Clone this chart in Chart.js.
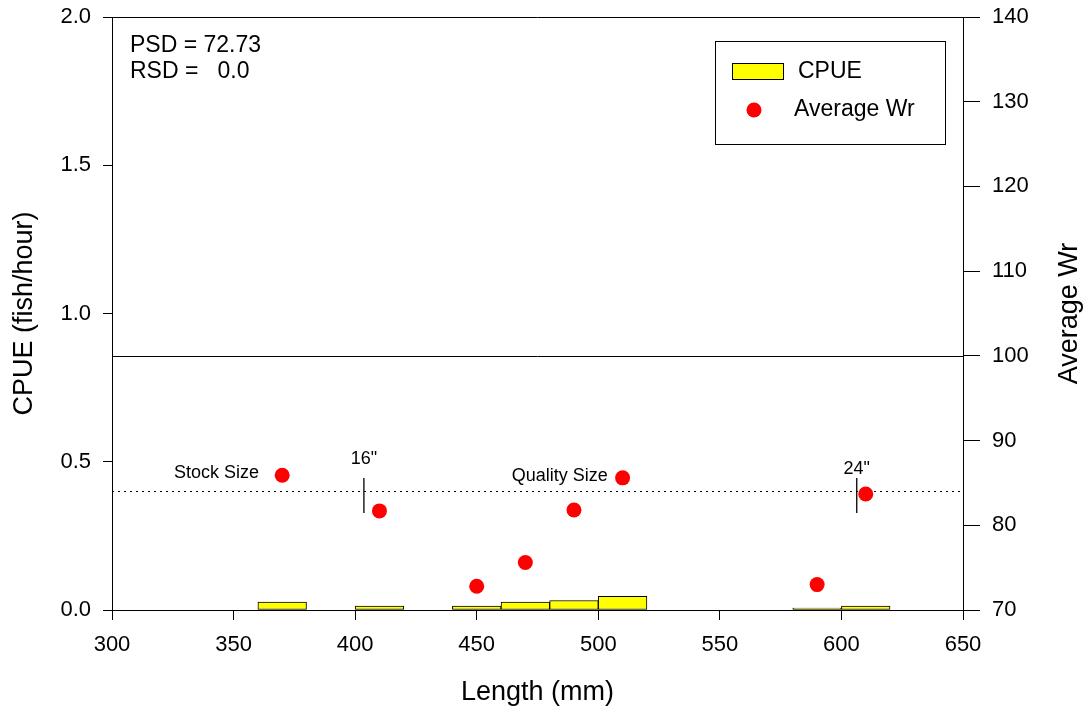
<!DOCTYPE html>
<html>
<head>
<meta charset="utf-8">
<script src="https://cdn.jsdelivr.net/npm/chart.js@4.4.1/dist/chart.umd.min.js"></script>
<style>
  html, body { margin: 0; padding: 0; background: #ffffff; }
  canvas { display: block; }
</style>
</head>
<body>
<canvas id="chart" width="1088" height="711"></canvas>
<script>
// ---- Data ----
const binCenters = [370, 410, 450, 470, 490, 510, 590, 610];   // length bin centers (mm), 20 mm bins
const cpueValues = [0.027, 0.013, 0.013, 0.027, 0.032, 0.046, 0.0067, 0.013];
const wrLengths = [370, 410, 450, 470, 490, 510, 590, 610];
const wrValues = [85.9, 81.7, 72.8, 75.6, 81.8, 85.6, 73.0, 83.7];
const xTicks = [300, 350, 400, 450, 500, 550, 600, 650];
const cpueTicks = [0.0, 0.5, 1.0, 1.5, 2.0];
const wrTicks = [70, 80, 90, 100, 110, 120, 130, 140];
const wrReference = 100;          // solid reference line (Average Wr)
const cpueReference = 0.4;        // dotted reference line (CPUE)
const sizeMarks = [403.6, 606.3]; // 16" and 24" markers (mm)
const sizeMarkLabels = ['16"', '24"'];
const sizeMarkLabelY = [0.508, 0.477];
const sizeMarkRange = [0.327, 0.445];
const sizeClassLabels = ['Stock Size', 'Quality Size'];
const sizeClassX = [325.5, 464.4];
const sizeClassY = [0.462, 0.452];
const statsLines = ['PSD = 72.73', 'RSD =   0.0'];

const FONT = '"Liberation Sans", Arial, Helvetica, sans-serif';

const noPad = (s) => { s.paddingTop = 0; s.paddingBottom = 0; s.paddingLeft = 0; s.paddingRight = 0; };

const decorPlugin = {
  id: 'decor',
  beforeDatasetsDraw(chart) {
    const ctx = chart.ctx;
    const a = chart.chartArea;
    const x = chart.scales.x, y = chart.scales.y, y2 = chart.scales.y2;
    ctx.save();
    ctx.strokeStyle = '#000';
    ctx.lineWidth = 1;
    ctx.beginPath();
    ctx.moveTo(a.left, Math.round(a.top) + 0.5);
    ctx.lineTo(a.right, Math.round(a.top) + 0.5);
    ctx.stroke();
    const yr = Math.round(y2.getPixelForValue(wrReference)) + 0.5;
    ctx.beginPath();
    ctx.moveTo(a.left, yr);
    ctx.lineTo(a.right, yr);
    ctx.stroke();
    const yd = Math.round(y.getPixelForValue(cpueReference)) + 0.5;
    ctx.setLineDash([2, 4]);
    ctx.beginPath();
    ctx.moveTo(a.left, yd);
    ctx.lineTo(a.right, yd);
    ctx.stroke();
    ctx.setLineDash([]);
    ctx.lineWidth = 1.3;
    sizeMarks.forEach((m) => {
      const px = x.getPixelForValue(m);
      ctx.beginPath();
      ctx.moveTo(px, y.getPixelForValue(sizeMarkRange[0]));
      ctx.lineTo(px, y.getPixelForValue(sizeMarkRange[1]));
      ctx.stroke();
    });
    ctx.restore();
  },
  afterDraw(chart) {
    const ctx = chart.ctx;
    const a = chart.chartArea;
    const x = chart.scales.x, y = chart.scales.y;
    ctx.save();
    ctx.fillStyle = '#000';
    ctx.font = '18px ' + FONT;
    ctx.textAlign = 'center';
    ctx.textBaseline = 'middle';
    sizeMarks.forEach((m, i) => {
      ctx.fillText(sizeMarkLabels[i], x.getPixelForValue(m), y.getPixelForValue(sizeMarkLabelY[i]));
    });
    ctx.textAlign = 'left';
    sizeClassLabels.forEach((t, i) => {
      ctx.fillText(t, x.getPixelForValue(sizeClassX[i]), y.getPixelForValue(sizeClassY[i]));
    });
    ctx.font = '23px ' + FONT;
    ctx.textBaseline = 'alphabetic';
    ctx.fillText(statsLines[0], 130, 52);
    ctx.fillText(statsLines[1], 130, 78);
    ctx.font = '27px ' + FONT;
    ctx.textAlign = 'center';
    ctx.textBaseline = 'middle';
    ctx.fillText('Length (mm)', (a.left + a.right) / 2, 693);
    ctx.save();
    ctx.translate(25, (a.top + a.bottom) / 2);
    ctx.rotate(-Math.PI / 2);
    ctx.fillText('CPUE (fish/hour)', 0, 0);
    ctx.restore();
    ctx.save();
    ctx.translate(1070, (a.top + a.bottom) / 2);
    ctx.rotate(-Math.PI / 2);
    ctx.fillText('Average Wr', 0, 0);
    ctx.restore();
    ctx.strokeStyle = '#000';
    ctx.lineWidth = 1;
    ctx.strokeRect(715.5, 41.5, 230, 103);
    ctx.fillStyle = '#ffff00';
    ctx.fillRect(732, 63, 52, 17);
    ctx.strokeRect(732.5, 63.5, 51, 16);
    ctx.fillStyle = '#ff0000';
    ctx.beginPath();
    ctx.arc(754, 110, 7.5, 0, Math.PI * 2);
    ctx.fill();
    ctx.fillStyle = '#000';
    ctx.font = '23px ' + FONT;
    ctx.textAlign = 'left';
    ctx.fillText('CPUE', 798, 72);
    ctx.fillText('Average Wr', 794, 110);
    ctx.restore();
  }
};

new Chart(document.getElementById('chart'), {
  type: 'bar',
  data: {
    datasets: [
      {
        type: 'scatter',
        label: 'Average Wr',
        data: wrLengths.map((v, i) => ({ x: v, y: wrValues[i] })),
        yAxisID: 'y2',
        backgroundColor: '#ff0000',
        borderColor: '#ff0000',
        borderWidth: 0,
        pointRadius: 7.5,
        order: 0
      },
      {
        type: 'bar',
        label: 'CPUE',
        data: binCenters.map((v, i) => ({ x: v, y: cpueValues[i] })),
        yAxisID: 'y',
        backgroundColor: '#ffff00',
        borderColor: '#000000',
        borderWidth: 1,
        borderSkipped: false,
        categoryPercentage: 1,
        barPercentage: 1,
        order: 1
      }
    ]
  },
  plugins: [decorPlugin],
  options: {
    responsive: false,
    animation: false,
    devicePixelRatio: 1,
    layout: { padding: { top: 17, left: 0, right: 0, bottom: 0 } },
    plugins: { legend: { display: false }, tooltip: { enabled: false } },
    scales: {
      x: {
        type: 'linear',
        position: 'bottom',
        min: 300, max: 650,
        offset: false,
        afterBuildTicks: (s) => { s.ticks = xTicks.map(v => ({ value: v })); },
        afterFit: (s) => { s.height = 101; noPad(s); },
        grid: { display: true, offset: false, drawOnChartArea: false, drawTicks: true, tickLength: 10, color: '#000', lineWidth: 1 },
        border: { display: true, color: '#000', width: 1 },
        ticks: { color: '#000', font: { family: FONT, size: 22 }, padding: 12, maxRotation: 0 }
      },
      y: {
        type: 'linear',
        position: 'left',
        min: 0, max: 2,
        afterBuildTicks: (s) => { s.ticks = cpueTicks.map(v => ({ value: v })); },
        afterFit: (s) => { s.width = 112; noPad(s); },
        grid: { display: true, drawOnChartArea: false, drawTicks: true, tickLength: 9, color: '#000', lineWidth: 1 },
        border: { display: true, color: '#000', width: 1 },
        ticks: { color: '#000', font: { family: FONT, size: 22 }, padding: 12, callback: (v) => Number(v).toFixed(1) }
      },
      y2: {
        type: 'linear',
        position: 'right',
        min: 70, max: 140,
        afterBuildTicks: (s) => { s.ticks = wrTicks.map(v => ({ value: v })); },
        afterFit: (s) => { s.width = 125; noPad(s); },
        grid: { display: true, drawOnChartArea: false, drawTicks: true, tickLength: 17, color: '#000', lineWidth: 1 },
        border: { display: true, color: '#000', width: 1 },
        ticks: { color: '#000', font: { family: FONT, size: 22 }, padding: 12 }
      }
    }
  }
});
</script>
</body>
</html>
